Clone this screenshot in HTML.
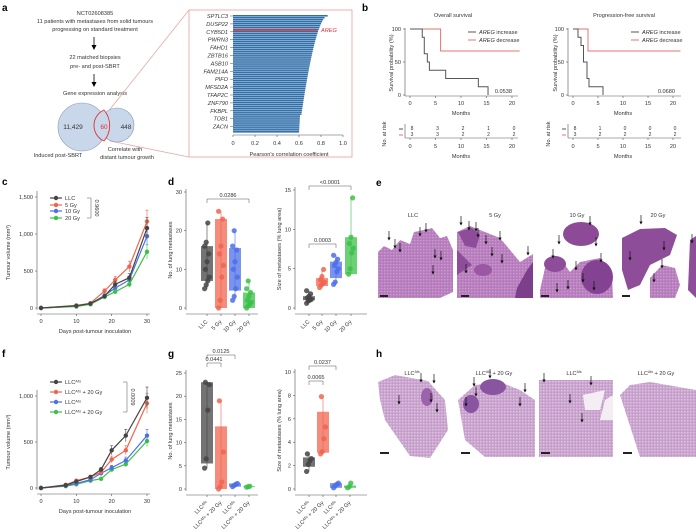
<!DOCTYPE html>
<html><head><meta charset="utf-8"><style>
html,body{margin:0;padding:0;background:#fff;}
svg{display:block;font-family:"Liberation Sans",sans-serif;}
</style></head><body>
<svg id="s" width="696" height="532" viewBox="0 0 696 532" xmlns="http://www.w3.org/2000/svg">
<defs>
<pattern id="tis" width="3" height="3" patternUnits="userSpaceOnUse"><rect width="3" height="3" fill="#b97fbf"/><circle cx="0.8" cy="0.8" r="0.5" fill="#dcc0df"/><circle cx="2.2" cy="2.2" r="0.4" fill="#a066a8"/></pattern>
<pattern id="tis2" width="3" height="3" patternUnits="userSpaceOnUse"><rect width="3" height="3" fill="#c9a3ce"/><circle cx="0.8" cy="0.8" r="0.6" fill="#ece0ee"/><circle cx="2.2" cy="2.2" r="0.35" fill="#ad7db3"/></pattern>
</defs>
<g font-weight="bold" font-size="10" fill="#000">
<text x="2" y="11">a</text><text x="362" y="11">b</text><text x="2" y="185">c</text><text x="168" y="185">d</text><text x="376" y="186">e</text>
<text x="2" y="357">f</text><text x="168" y="357">g</text><text x="376" y="357">h</text></g>
<g font-size="5.6" fill="#333" text-anchor="middle">
<text x="95" y="15">NCT02608385</text>
<text x="95" y="23">11 patients with metastases from solid tumours</text>
<text x="95" y="31">progressing on standard treatment</text>
<text x="95" y="59">22 matched biopsies</text>
<text x="95" y="68">pre- and post-SBRT</text>
<text x="95" y="95">Gene expression analysis</text>
<text x="58" y="157">Induced post-SBRT</text>
<text x="125" y="151">Correlate with</text>
<text x="127" y="159">distant tumour growth</text>
</g>
<g stroke="#000" stroke-width="0.8"><line x1="94" y1="37" x2="94" y2="47"/><line x1="94" y1="74" x2="94" y2="84"/></g>
<path d="M91.5,45 L94,50 L96.5,45Z M91.5,82 L94,87 L96.5,82Z"/>
<line x1="107" y1="113" x2="189" y2="10" stroke="#e8a7a7" stroke-width="0.8"/>
<line x1="110" y1="141" x2="189" y2="157" stroke="#e8a7a7" stroke-width="0.8"/>
<circle cx="82" cy="127" r="24" fill="#c9d7ea" stroke="#8a9ab0" stroke-width="0.6"/>
<circle cx="117" cy="125" r="17" fill="#c9d7ea" stroke="#8a9ab0" stroke-width="0.6"/>
<path d="M104,110 A24,24 0 0 1 104,141 A17,17 0 0 1 104,110Z" fill="#c9d7ea" stroke="#d33" stroke-width="0.9"/>
<g font-size="6.5" fill="#333" text-anchor="middle"><text x="73" y="129">11,429</text><text x="104" y="129" fill="#d33">60</text><text x="126" y="129">448</text></g>
<rect x="189" y="10" width="163" height="147" fill="none" stroke="#eaa9a9" stroke-width="0.9"/>
<g id="bars"></g>
<g font-size="5.6" fill="#333"><text x="233" y="145" text-anchor="middle">0</text><text x="255" y="145" text-anchor="middle">0.2</text><text x="277" y="145" text-anchor="middle">0.4</text><text x="299" y="145" text-anchor="middle">0.6</text><text x="321" y="145" text-anchor="middle">0.8</text><text x="343" y="145" text-anchor="middle">1.0</text>
<text x="289" y="156" text-anchor="middle">Pearson's correlation coefficient</text>
<text x="321" y="32" fill="#d33" font-style="italic">AREG</text></g>
<g id="gen"></g>
<g font-size="5.6" fill="#333" text-anchor="middle">
<text x="453" y="17">Overall survival</text><text x="624" y="17">Progression-free survival</text>
<text x="461" y="115">Months</text><text x="623" y="115">Months</text>
<text x="461" y="158">Months</text><text x="623" y="158">Months</text>
<text transform="translate(393,63) rotate(-90)">Survival probability (%)</text>
<text transform="translate(557,63) rotate(-90)">Survival probability (%)</text>
<text transform="translate(386,134) rotate(-90)">No. at risk</text>
<text transform="translate(550,134) rotate(-90)">No. at risk</text>
</g>
<g id="dyn"></g>
<g font-size="5.6" fill="#333" text-anchor="middle"><text x="413" y="217">LLC</text><text x="495" y="217">5 Gy</text><text x="577" y="217">10 Gy</text><text x="658" y="217">20 Gy</text></g>
<g stroke="none">
<path d="M378,252 L384,246 L392,250 L400,240 L410,244 L414,232 L424,230 L432,228 L440,238 L447,236 L453,250 L453,292 L440,298 L378,298Z" fill="url(#tis)"/>
<path d="M457,232 L470,226 L480,230 L500,238 L510,250 L520,262 L533,254 L533,298 L457,298Z" fill="url(#tis)"/>
<path d="M458,232 L472,228 L480,235 L476,248 L465,246Z" fill="#8e4d99"/>
<path d="M457,250 L472,265 L457,275Z" fill="#8e4d99"/>
<ellipse cx="483" cy="270" rx="9" ry="6" fill="#9a58a3"/>
<path d="M517,288 L527,270 L533,262 L533,298 L515,298Z" fill="#7d3e8c"/>
<ellipse cx="581" cy="234" rx="18" ry="12" fill="#8c4a97"/>
<path d="M540,290 L545,268 L560,258 L570,272 L580,262 L600,258 L612,275 L613,298 L540,298Z" fill="url(#tis)"/>
<ellipse cx="597" cy="277" rx="16" ry="17" fill="#844392"/>
<ellipse cx="555" cy="264" rx="11" ry="8" fill="#8e4d99"/>
<path d="M622,238 L640,229 L665,228 L677,235 L670,255 L650,265 L640,285 L628,290 L622,270Z" fill="#8e4d99"/>
<path d="M650,278 L662,265 L675,268 L680,285 L675,298 L650,298Z" fill="url(#tis)"/>
<path d="M690,240 L696,236 L696,298 L688,290Z" fill="#8e4d99"/>
<path d="M378,382 L395,375 L428,381 L445,400 L448,430 L430,458 L410,456 L385,420 L380,400Z" fill="url(#tis2)"/>
<path d="M458,400 L475,385 L500,382 L520,390 L535,400 L535,457 L485,457 L465,440Z" fill="url(#tis2)"/>
<ellipse cx="493" cy="387" rx="13" ry="8" fill="#8a55a0"/><ellipse cx="471" cy="404" rx="8" ry="9" fill="#8a55a0"/>
<rect x="539" y="380" width="74" height="77" fill="url(#tis2)"/>
<path d="M605,400 L613,395 L613,420 L600,420Z M583,395 L605,390 L600,410 L585,410Z" fill="#f4eef4"/>
<path d="M620,395 L630,385 L650,382 L696,390 L696,457 L640,457Z" fill="url(#tis2)"/>
<ellipse cx="427" cy="397" rx="6" ry="9" fill="#9a63ab"/>
</g>
<g stroke="#222" stroke-width="2"><line x1="380" y1="296" x2="388" y2="296"/><line x1="461" y1="296" x2="469" y2="296"/><line x1="541" y1="296" x2="549" y2="296"/><line x1="622" y1="296" x2="630" y2="296"/>
<line x1="380" y1="453" x2="389" y2="453"/><line x1="461" y1="453" x2="470" y2="453"/><line x1="541" y1="453" x2="550" y2="453"/><line x1="623" y1="453" x2="632" y2="453"/></g>
<g font-size="5.6" fill="#333" text-anchor="middle"><text x="412" y="375">LLC<tspan font-size="3.5" dy="-2">Afs</tspan></text><text x="494" y="375">LLC<tspan font-size="3.5" dy="-2">Afs</tspan><tspan dy="2"> + 20 Gy</tspan></text><text x="574" y="375">LLC<tspan font-size="3.5" dy="-2">Afs</tspan></text><text x="656" y="375">LLC<tspan font-size="3.5" dy="-2">Afs</tspan><tspan dy="2"> + 20 Gy</tspan></text></g>
<g id="arr"></g>
</svg>
<script>
var NS="http://www.w3.org/2000/svg",d=document.getElementById('dyn');
function el(t,a,p){var e=document.createElementNS(NS,t);for(var k in a)e.setAttribute(k,a[k]);(p||d).appendChild(e);return e;}
function L(x1,y1,x2,y2,c,w,p){return el('line',{x1:x1,y1:y1,x2:x2,y2:y2,stroke:c||'#333','stroke-width':w||0.7},p);}
function T(x,y,s,o){o=o||{};var e=el('text',{x:x,y:y,'font-size':o.fs||5.6,fill:o.c||'#333','text-anchor':o.a||'middle'},o.p);if(o.r)e.setAttribute('transform','rotate('+o.r+' '+x+' '+y+')');if(o.i)e.setAttribute('font-style','italic');e.textContent=s;return e;}
function C(x,y,r,f,op){return el('circle',{cx:x,cy:y,r:r,fill:f,'fill-opacity':op||1});}
function P(pts,c,w){return el('polyline',{points:pts.map(function(p){return p.join(',')}).join(' '),fill:'none',stroke:c,'stroke-width':w||1});}
var b=document.getElementById('bars');var n=60;
for(var i=0;i<n;i++){var v=0.86-0.26*Math.pow(i/(n-1),0.55);if(i>50)v=0.6+0.01*(n-i)/10;var y=15+i*118/n;
el('rect',{x:233,y:y,width:(v*110),height:118/n-0.4,fill:'#2f6ea8'},b);}
L(233,30,317,30,'#d33',1.4,b);
L(233,135,343,135,'#555',0.6,b);
[233,255,277,299,321,343].forEach(function(x){L(x,135,x,137,'#555',0.6,b)});
var g=['SPTLC3','DUSP22','CYB5D1','PWRN3','FAHD1','ZBTB16','ASB10','FAM214A','PIFO','MFSD2A','TFAP2C','ZNF790','FKBPL','TOB1','ZACN'];
g.forEach(function(s,i){T(228,18+i*7.9,s,{a:'end',i:1,p:document.getElementById('gen')});L(230,16+i*7.9,233,16+i*7.9,'#555',0.5,b)});
function leg(x,y,w){var t=el('text',{x:x,y:y,'font-size':5.6,fill:'#333'});var a=document.createElementNS(NS,'tspan');a.setAttribute('font-style','italic');a.textContent='AREG';t.appendChild(a);t.appendChild(document.createTextNode(' '+w));}
function surv(x0,sx,gray,red,pv){
 var Y=function(v){return 95-v*0.66};
 L(x0-5,28,x0-5,96,'#555',0.6);L(x0-5,96,x0+108,96,'#555',0.6);
 [0,50,100].forEach(function(v){L(x0-7,Y(v),x0-5,Y(v),'#555',0.6);T(x0-9,Y(v)+2,v,{a:'end'})});
 [0,5,10,15,20].forEach(function(m){L(x0+m*sx,96,x0+m*sx,98,'#555',0.6);T(x0+m*sx,105,m);L(x0+m*sx,138,x0+m*sx,140,'#555',0.6);T(x0+m*sx,148,m)});
 L(x0-5,138,x0+108,138,'#555',0.6);L(x0-5,124,x0-5,138,'#555',0.6);
 function st(a,c){var p=[],pv=100;a.forEach(function(s){p.push([x0+s[0]*sx,Y(pv)]);p.push([x0+s[0]*sx,Y(s[1])]);pv=s[1];});P(p,c,1)}
 st(red,'#e57373');st(gray,'#555');
 L(x0+58,32,x0+66,32,'#555',1);L(x0+58,40,x0+66,40,'#e57373',1);
 leg(x0+69,34,'increase');leg(x0+69,42,'decrease');
 T(x0+102,93,pv,{a:'end'});
 L(x0-11,129,x0-7,129,'#555',1);L(x0-11,135,x0-7,135,'#e57373',1);
}
surv(410,5.1,[[0,100],[2.4,87.5],[2.8,62.5],[3.4,50],[3.8,37.5],[7,25],[13.4,12.5],[15.3,0]],[[0,100],[6,66.7],[21.5,66.7]],'0.0538');
[8,3,2,1,0].forEach(function(v,i){T(412+i*25.5,130,v,{fs:5});});[3,3,2,2,2].forEach(function(v,i){T(412+i*25.5,136,v,{fs:5});});
surv(573,5,[[0,100],[1,87.5],[1.6,75],[2.1,50],[2.8,25],[3.2,12.5],[6,0]],[[0,100],[3,66.7],[21.5,66.7]],'0.0680');
[8,1,0,0,0].forEach(function(v,i){T(575+i*25,130,v,{fs:5});});[3,2,2,2,2].forEach(function(v,i){T(575+i*25,136,v,{fs:5});});
var cols={k:'#444',r:'#f0644f',b:'#4d6fe8',g:'#3cc04a'};
function growth(Yf,ticks,days,series,err,leg,legY,br,pv,x0){
 var X=function(t){return 41+t*106/30};
 L(37,Yf(ticks[ticks.length-1])-6,37,Yf(0)+2,'#555',0.6);L(37,Yf(0)+6,150,Yf(0)+6,'#555',0.6);
 ticks.forEach(function(v){L(35,Yf(v),37,Yf(v),'#555',0.6);T(33,Yf(v)+2,v.toLocaleString('en-US'),{a:'end'})});
 [0,10,20,30].forEach(function(t){L(X(t),Yf(0)+6,X(t),Yf(0)+8,'#555',0.6);T(X(t),Yf(0)+15,t)});
 T(95,Yf(0)+25,'Days post-tumour inoculation');
 T(10,(Yf(0)+Yf(ticks[ticks.length-1]))/2,'Tumour volume (mm³)',{r:-90});
 series.forEach(function(s,k){var c=cols[s.c];var p=days.map(function(t,i){return [X(t),Yf(s.v[i])]});
  days.forEach(function(t,i){var e=s.v[i]*err;L(X(t),Yf(s.v[i]-e),X(t),Yf(s.v[i]+e),c,0.6);L(X(t)-1.5,Yf(s.v[i]+e),X(t)+1.5,Yf(s.v[i]+e),c,0.6)});
  P(p,c,1.2);p.forEach(function(q){C(q[0],q[1],2.2,c)});});
 leg.forEach(function(s,i){var y=legY[i],c=cols[s[0]];L(50,y,62,y,c,1.2);C(56,y,2.2,c);T(65,y+2,s[1],{a:'start'});});
 L(br[0],legY[0],br[0],legY[legY.length-1],'#555',0.5);L(br[0]-4,legY[0],br[0],legY[0],'#555',0.5);L(br[0]-4,legY[legY.length-1],br[0],legY[legY.length-1],'#555',0.5);
 T(br[0]+4,(legY[0]+legY[legY.length-1])/2,pv,{r:90});
}
growth(function(v){return 308-v*111/1500},[0,500,1000,1500],[0,10,14,18,21,25,30],
 [{c:'r',v:[0,35,65,230,380,560,1170]},{c:'b',v:[0,25,55,170,270,380,970]},{c:'g',v:[0,20,50,150,220,320,760]},{c:'k',v:[0,30,60,160,320,410,1080]}],
 0.13,[['k','LLC'],['r','5 Gy'],['b','10 Gy'],['g','20 Gy']],[198,205,211,218],[91],'0.9600');
growth(function(v){return 488-v*0.092},[0,500,1000],[0,7,10,14,17,20,24,30],
 [{c:'g',v:[0,20,40,80,100,200,260,510]},{c:'b',v:[0,25,50,90,160,220,300,570]},{c:'r',v:[0,35,80,120,170,310,410,920]},{c:'k',v:[0,30,70,120,200,410,570,980]}],
 0.12,[['k','LLCᴬᶠˢ'],['r','LLCᴬᶠˢ + 20 Gy'],['b','LLCᴬᶠˢ'],['g','LLCᴬᶠˢ + 20 Gy']],[382,392,402,412],[127],'0.0009');
function boxp(ax,y0,ytop,vmax,ticks,ylab,boxes,labels,brs){
 var Y=function(v){return y0-v*(y0-ytop)/vmax};
 L(ax,ytop-3,ax,y0+2,'#555',0.6);L(ax,y0+6,ax+72,y0+6,'#555',0.6);
 ticks.forEach(function(v){L(ax-2,Y(v),ax,Y(v),'#555',0.6);T(ax-4,Y(v)+2,v,{a:'end'})});
 T(ax-14,(y0+ytop)/2,ylab,{r:-90});
 boxes.forEach(function(b,i){var c=cols[b.c];var x=b.x;
  L(x,Y(b.w[0]),x,Y(b.w[1]),c,0.6);
  el('rect',{x:x-6,y:Y(b.q[1]),width:12,height:Y(b.q[0])-Y(b.q[1]),fill:c,'fill-opacity':0.75});
  b.p.forEach(function(v,j){C(x+((j*37)%7-3)*0.8,Y(v),2.6,c,0.85)});
  L(x,y0+6,x,y0+8,'#555',0.6);
  labels[i].split('|').forEach(function(s,k){T(x+1-k*4,y0+14+k*4,s,{a:'end',r:-45})});
 });
 brs.forEach(function(r){var y=r[2];L(r[0],y,r[1],y,'#555',0.5);L(r[0],y,r[0],y+4,'#555',0.5);L(r[1],y,r[1],y+4,'#555',0.5);T((r[0]+r[1])/2,y-2,r[3])});
}
boxp(186,308,192,30,[0,10,20,30],'No. of lung metastases',[
 {x:207,c:'k',q:[7,16],w:[5,22],p:[5,6,7,8,10,12,14,16,17,22]},
 {x:221,c:'r',q:[0,23],w:[0,25],p:[0,2,8,11,14,16,23,25]},
 {x:235,c:'b',q:[4.5,15.5],w:[2,20],p:[2,3,5,8,10,12,15,16,20]},
 {x:249,c:'g',q:[0,4],w:[0,7],p:[0,0.5,1,1.5,2,3,4,5,7]}],['LLC','5 Gy','10 Gy','20 Gy'],[[207,249,199,'0.0286']]);
boxp(295,308,190,15,[0,5,10,15],'Size of metastases (% lung area)',[
 {x:309,c:'k',q:[1,1.5],w:[0.6,2.2],p:[0.6,0.9,1,1.1,1.3,1.5,1.8,2.2]},
 {x:322,c:'r',q:[2.8,3.8],w:[2.5,4.9],p:[2.6,2.9,3.1,3.3,3.6,4,4.9]},
 {x:336,c:'b',q:[3.8,5.9],w:[3,6.7],p:[3,3.3,4.6,5,5.4,5.8,6.2,6.7]},
 {x:351,c:'g',q:[4.3,9],w:[4.3,14],p:[4.3,5,7,7.6,8.2,9,14]}],['LLC','5 Gy','10 Gy','20 Gy'],[[309,351,186,'<0.0001'],[309,336,244,'0.0003']]);
boxp(186,489,373,25,[0,5,10,15,20,25],'No. of lung metastases',[
 {x:207,c:'k',q:[5.5,23],w:[4.5,23],p:[4.5,6.5,17,22.5,23]},
 {x:221,c:'r',q:[0,13.5],w:[0,19],p:[0,0.5,1.5,8,19]},
 {x:235,c:'b',q:[0.5,1.2],w:[0.3,1.4],p:[0.5,0.8,1,1.2]},
 {x:249,c:'g',q:[0.4,0.6],w:[0.3,0.7],p:[0.4,0.5,0.6]}],['LLCᴬᶠˢ','LLCᴬᶠˢ + 20 Gy','LLCᴬᶠˢ','LLCᴬᶠˢ + 20 Gy'],[[207,221,363,'0.0441'],[207,235,355,'0.0125']]);
boxp(295,489,372,10,[0,2,4,6,8,10],'Size of metastases (% lung area)',[
 {x:309,c:'k',q:[1.9,2.7],w:[1.5,3],p:[1.5,2.1,2.4,2.6,3]},
 {x:323,c:'r',q:[3.1,6.6],w:[3,7.9],p:[3,3.2,4.3,5.3,7.9]},
 {x:336,c:'b',q:[0.1,0.5],w:[0,0.5],p:[0.1,0.3,0.4,0.5]},
 {x:350,c:'g',q:[0.1,0.3],w:[0,0.6],p:[0.1,0.2,0.5]}],['LLCᴬᶠˢ','LLCᴬᶠˢ + 20 Gy','LLCᴬᶠˢ','LLCᴬᶠˢ + 20 Gy'],[[309,336,366,'0.0237'],[309,323,381,'0.0065']]);
var A=document.getElementById('arr');
[[389,240],[395,248],[400,252],[420,236],[426,232],[435,258],[441,260],[433,274],[461,225],[469,230],[476,231],[478,237],[486,244],[492,256],[502,263],[500,240],[528,255],[466,273],[590,225],[596,246],[559,244],[553,258],[576,270],[601,262],[583,282],[568,289],[557,292],[594,290],[641,224],[630,260],[664,250],[662,268],[654,282],[692,243],
 [421,382],[434,383],[399,404],[431,402],[437,412],[490,378],[474,386],[476,396],[466,406],[520,406],[525,392],[544,382],[591,385],[570,403],[582,422]].forEach(function(p){
 L(p[0],p[1]-9,p[0],p[1],'#111',0.7,A);el('path',{d:'M'+(p[0]-1.6)+','+(p[1]-2.5)+' L'+p[0]+','+(p[1]+0.5)+' L'+(p[0]+1.6)+','+(p[1]-2.5)+'Z',fill:'#111'},A);});
</script>
</body></html>
